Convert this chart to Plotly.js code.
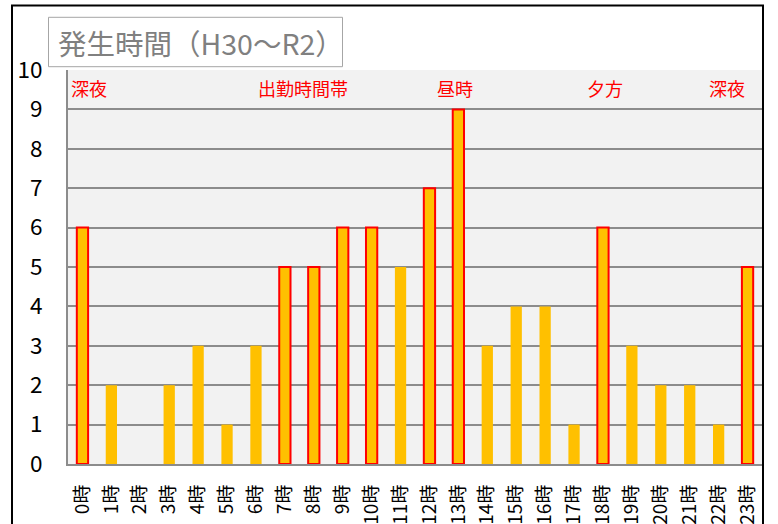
<!DOCTYPE html>
<html>
<head>
<meta charset="utf-8">
<script src="https://cdn.plot.ly/plotly-3.0.1.min.js"></script>
<style>html,body{margin:0;padding:0;background:#fff;}#chart{width:778px;height:524px;}</style>
</head>
<body>
<div id="chart"></div>
<script>
const hours = ["0時","1時","2時","3時","4時","5時","6時","7時","8時","9時","10時","11時","12時","13時","14時","15時","16時","17時","18時","19時","20時","21時","22時","23時"];
const counts = [6,2,0,2,3,1,3,5,5,6,6,5,7,9,3,4,4,1,6,3,2,2,1,5];
const highlighted = [1,0,0,0,0,0,0,1,1,1,1,0,1,1,0,0,0,0,1,0,0,0,0,1];
const periodLabels = ["深夜","出勤時間帯","昼時","夕方","深夜"];
const titleText = "発生時間（H30～R2）";

const FONT = "Calibri, Carlito, 'Noto Sans CJK JP', sans-serif";
const L = 68, R = 762, T = 70, B = 464, W = 778, H = 524;
const px = v => (v - L) / (R - L);
const py = v => (B - v) / (B - T);

const trace = {
  type: "bar",
  x: hours,
  y: counts,
  width: 0.39,
  marker: {
    color: "#FFC000",
    line: {
      color: highlighted.map(h => h ? "#FF0000" : "rgba(0,0,0,0)"),
      width: highlighted.map(h => h ? 2 : 0)
    }
  },
  hoverinfo: "x+y"
};

const annX = [px(68.5), px(303), px(455), px(605), px(747)];
const annAnchor = ["left","center","center","center","right"];
const annotations = periodLabels.map((t, i) => ({
  text: t, xref: "paper", yref: "paper", x: annX[i], y: py(88),
  xanchor: annAnchor[i], yanchor: "middle", showarrow: false,
  font: {family: "'Noto Sans CJK JP', sans-serif", size: 18, color: "#FF0000"}
}));
annotations.push({
  text: titleText, xref: "paper", yref: "paper", x: px(56), y: py(42),
  xanchor: "left", yanchor: "middle", showarrow: false,
  font: {family: "'Noto Sans CJK JP', sans-serif", size: 28.5, color: "#808080"}
});

const layout = {
  width: W, height: H,
  margin: {l: L, r: W - R, t: T, b: H - B, pad: 0},
  paper_bgcolor: "#ffffff",
  plot_bgcolor: "#F2F2F2",
  showlegend: false,
  font: {family: FONT, color: "#000"},
  xaxis: {
    type: "category",
    tickangle: -90,
    tickfont: {family: "'Noto Sans CJK JP', sans-serif", size: 19, color: "#000"},
    showline: true, linecolor: "#8C8C8C", linewidth: 2,
    showgrid: false, ticks: "outside", ticklen: 11, tickcolor: "rgba(0,0,0,0)",
    range: [-0.5, 23.5]
  },
  yaxis: {
    range: [0, 10], dtick: 1, tick0: 0,
    tickfont: {family: "'Noto Sans CJK JP', sans-serif", size: 22.5, color: "#000"},
    showline: true, linecolor: "#8C8C8C", linewidth: 2,
    showgrid: true, gridcolor: "#8C8C8C", gridwidth: 2,
    zeroline: false,
    ticks: "outside", ticklen: 19, tickcolor: "rgba(0,0,0,0)"
  },
  shapes: [
    {type: "rect", xref: "paper", yref: "paper", x0: px(48.5), x1: px(342.5), y0: py(66.7), y1: py(17.3),
     line: {color: "#A6A6A6", width: 1}, fillcolor: "rgba(255,255,255,0)", layer: "above"},
    {type: "rect", xref: "paper", yref: "paper", x0: px(12), x1: px(763), y0: py(560), y1: py(5.5),
     line: {color: "#000000", width: 2}, fillcolor: "rgba(0,0,0,0)", layer: "above"}
  ],
  annotations: annotations
};

Plotly.newPlot("chart", [trace], layout, {displayModeBar: false, staticPlot: true});
</script>
</body>
</html>
